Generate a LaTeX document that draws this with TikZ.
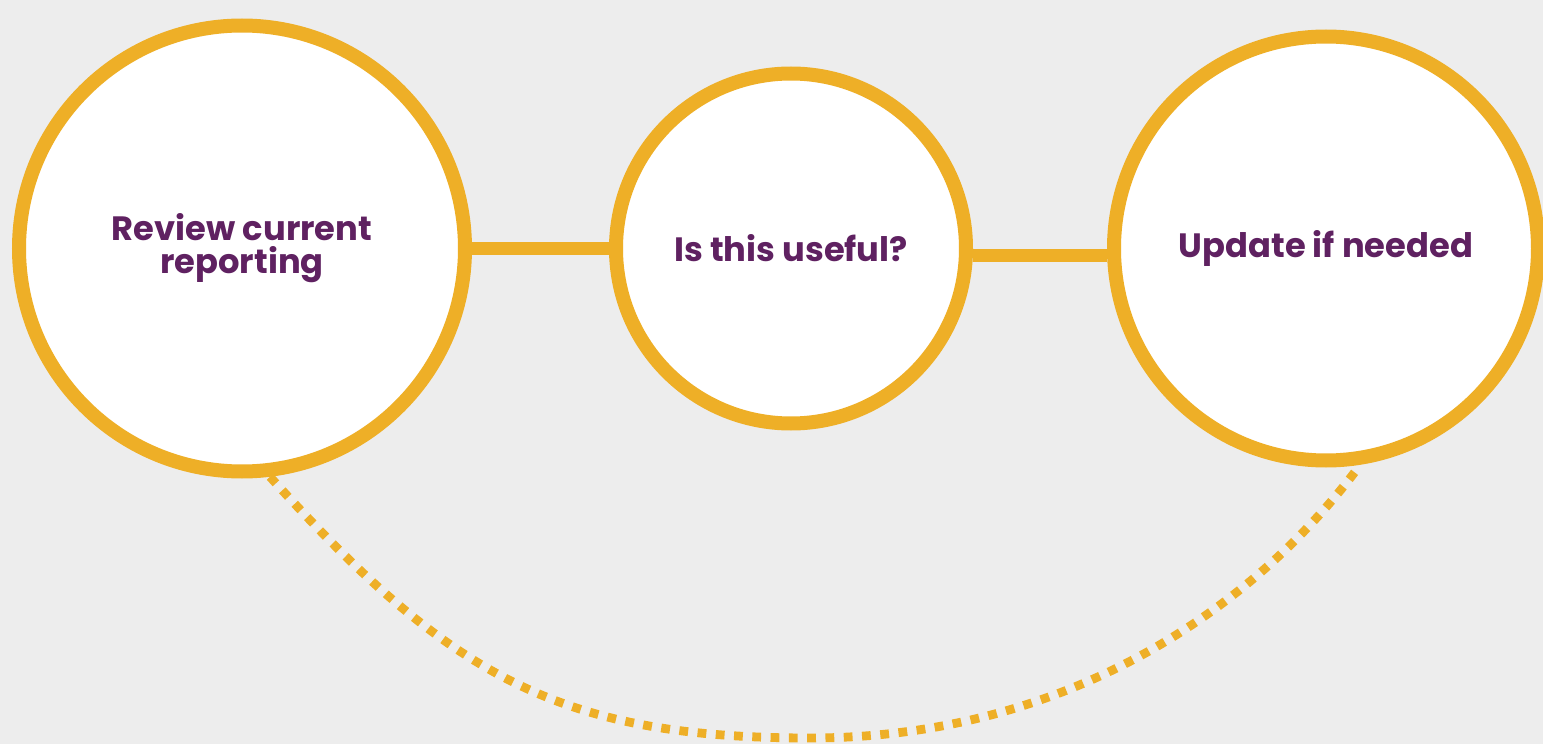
\documentclass[tikz,border=0pt]{standalone}
\usepackage{fontspec}
\setmainfont{Poppins}
\usepackage{tikz}
\usepackage{xcolor}

\definecolor{ring}{HTML}{EEAF27}
\definecolor{plum}{HTML}{5F2161}
\definecolor{paper}{HTML}{EDEDED}

\begin{document}
\begin{tikzpicture}[
    stage/.style={circle, draw=ring, fill=white, line width=0.14cm, inner sep=0pt,
      align=center, text=plum, font=\fontsize{9.6}{9.4}\selectfont\bfseries},
    link/.style={ring, line width=0.135cm},
    loop/.style={ring, line width=0.088cm, line cap=butt, dash pattern=on 0.088cm off 0.095cm}]%
          \fill [paper] (0,0) rectangle (15.43,7.44);%
          \useasboundingbox (0,0) rectangle (15.43,7.44);%
          \node [stage, minimum size=4.46cm] (R) at (2.42,4.955) {Review current\\reporting};%
          \node [stage, minimum size=3.50cm] (I) at (7.91,4.955) {Is this useful?};%
          \node [stage, minimum size=4.24cm] (U) at (13.26,4.955) {Update if needed};%
          \coordinate (low) at (8.10,0.06);%
          \draw [link] (R) to (I);%
          \draw [link] ([yshift=-0.07cm]I.east) to ([yshift=-0.07cm]U.west);%
          \draw [loop] (R.-83) .. controls +(1.8,-2.0) and (5.60,0.06) .. (low) .. controls (10.60,0.06) and (12.50,1.30) .. (U.-81);%
        \end{tikzpicture}
\end{document}
